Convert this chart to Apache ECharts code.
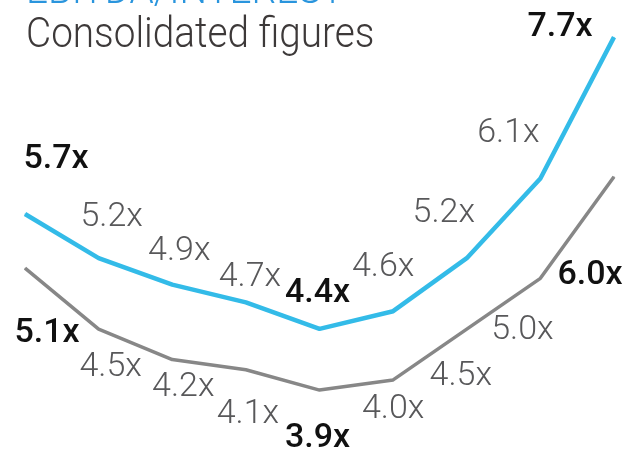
<!DOCTYPE html>
<html>
<head>
<meta charset="utf-8">
<script src="https://cdn.jsdelivr.net/npm/echarts@6/dist/echarts.min.js"></script>
<style>
  html, body { margin: 0; padding: 0; background: #ffffff; }
  #chart { width: 628px; height: 450px; }
</style>
</head>
<body>
<div id="chart"></div>
<script>
// Periods along the x axis (not drawn)
const periods = ['P1', 'P2', 'P3', 'P4', 'P5', 'P6', 'P7', 'P8', 'P9'];
// EBITDA / interest coverage, two measures
const upperSeries = [5.7, 5.2, 4.9, 4.7, 4.4, 4.6, 5.2, 6.1, 7.7];
const lowerSeries = [5.1, 4.5, 4.2, 4.1, 3.9, 4.0, 4.5, 5.0, 6.0];

const titleText = 'EBITDA/INTEREST';
const subtitleText = 'Consolidated figures';

// Label placement, relative to each point
const upperLabelOffsets = [[31, -54], [13, -41], [7, -33], [4, -25], [-2, -35], [-10, -44], [-23, -45], [-32, -45], [-54, -10]];
const lowerLabelOffsets = [[22, 65], [12, 38], [11, 28], [2, 45], [-2, 48], [0, 30], [-6, 47], [-18, 52], [-24, 99]];

const FONT = 'Roboto, "Noto Sans", sans-serif';

function emphasised(values, i) {
  const min = Math.min(...values);
  return i === 0 || i === values.length - 1 || values[i] === min;
}

function buildData(values, offsets) {
  return values.map((v, i) => {
    const strong = emphasised(values, i);
    return {
      value: v,
      label: {
        offset: offsets[i],
        fontWeight: strong ? 500 : 300,
        color: strong ? '#111111' : '#58585a'
      }
    };
  });
}

const labelBase = {
  show: true,
  position: 'inside',
  fontFamily: FONT,
  fontSize: 34,
  formatter: p => p.value.toFixed(1) + 'x'
};

const chart = echarts.init(document.getElementById('chart'), null, { renderer: 'canvas' });
chart.setOption({
  animation: false,
  backgroundColor: '#ffffff',
  grid: { left: 25, right: 14, top: 0, bottom: 0 },
  xAxis: { type: 'category', data: periods, boundaryGap: false, show: false },
  yAxis: [
    { type: 'value', min: 3.03, max: 8.12, show: false },
    { type: 'value', min: 3.31, max: 7.74, show: false }
  ],
  graphic: [
    {
      type: 'text', x: 26, y: -29, scaleX: 0.9,
      style: { text: titleText, font: '300 43px ' + FONT, fill: '#2a95dd', verticalAlign: 'top' }
    },
    {
      type: 'text', x: 26, y: 15, scaleX: 0.9,
      style: { text: subtitleText, font: '300 43px ' + FONT, fill: '#3d3939', verticalAlign: 'top' }
    }
  ],
  series: [
    {
      type: 'line',
      yAxisIndex: 0,
      data: buildData(upperSeries, upperLabelOffsets),
      symbol: 'circle',
      symbolSize: 1,
      lineStyle: { color: '#33bbe8', width: 4.5 },
      itemStyle: { color: '#33bbe8' },
      label: labelBase,
      emphasis: { disabled: true },
      z: 3
    },
    {
      type: 'line',
      yAxisIndex: 1,
      data: buildData(lowerSeries, lowerLabelOffsets),
      symbol: 'circle',
      symbolSize: 1,
      lineStyle: { color: '#878787', width: 3.5 },
      itemStyle: { color: '#878787' },
      label: labelBase,
      emphasis: { disabled: true },
      z: 2
    }
  ]
});
</script>
</body>
</html>
